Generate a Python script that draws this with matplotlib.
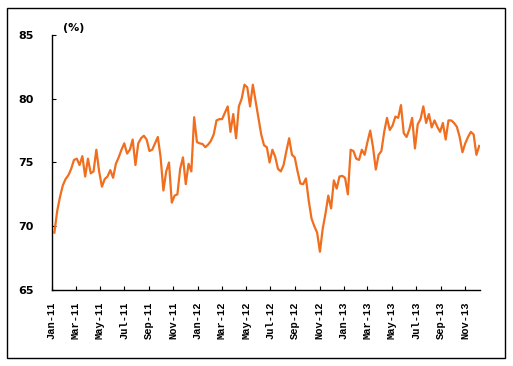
import matplotlib
matplotlib.use("Agg")
import matplotlib.pyplot as plt
import matplotlib.dates as mdates
import pandas as pd
from matplotlib.patches import Rectangle


# weekly readings, Jan 2011 - Dec 2013 (%)
start_date = "2011-01-07"
values = [
    69.5, 71.2, 72.3, 73.2, 73.7, 74.0, 74.5, 75.2, 75.3, 74.8,
    75.5, 73.9, 75.3, 74.15, 74.3, 76.0, 74.3, 73.1, 73.7, 73.9,
    74.4, 73.8, 74.9, 75.4, 76.0, 76.5, 75.7, 76.0, 76.8, 74.8,
    76.5, 76.9, 77.1, 76.8, 75.9, 76.0, 76.5, 77.0, 75.4, 72.8,
    74.3, 75.0, 71.85, 72.4, 72.5, 74.5, 75.4, 73.3, 74.9, 74.3,
    78.55, 76.6, 76.5, 76.45, 76.2, 76.4, 76.7, 77.2, 78.3, 78.4,
    78.4, 78.9, 79.4, 77.4, 78.8, 76.9, 79.4, 80.0, 81.1, 80.9,
    79.4, 81.1, 79.8, 78.5, 77.2, 76.35, 76.2, 75.0, 76.0, 75.45,
    74.5, 74.3, 74.8, 75.9, 76.9, 75.6, 75.4, 74.3, 73.35, 73.3,
    73.75, 72.0, 70.6, 70.0, 69.5, 68.0, 69.8, 71.0, 72.4, 71.4,
    73.6, 72.95, 73.9, 73.95, 73.8, 72.5, 76.0, 75.9, 75.3, 75.2,
    76.0, 75.6, 76.6, 77.5, 76.2, 74.45, 75.6, 75.9, 77.4, 78.5,
    77.55, 77.9, 78.6, 78.5, 79.5, 77.3, 77.0, 77.6, 78.5, 76.1,
    78.0, 78.4, 79.4, 78.1, 78.8, 77.75, 78.3, 77.8, 77.4, 78.1,
    76.8, 78.3, 78.3, 78.1, 77.8, 77.0, 75.8, 76.5, 77.0, 77.4,
    77.2, 75.6, 76.3,
]
y_ticks = [65, 70, 75, 80, 85]
unit_label = "(%)"

dates = pd.date_range(start_date, periods=len(values), freq="7D")

fig = plt.figure(figsize=(5.13, 3.66), dpi=100)
ax = fig.add_axes([0.1014, 0.2077, 0.8343, 0.6967])

ax.plot(dates, values, color="#F06E1E", linewidth=1.6)

ax.set_ylim(65, 85)
ax.set_yticks(y_ticks)
ax.set_xlim(pd.Timestamp("2011-01-01"), pd.Timestamp("2013-12-08"))
ax.xaxis.set_major_locator(mdates.MonthLocator(bymonth=[1, 3, 5, 7, 9, 11]))
ax.xaxis.set_major_formatter(mdates.DateFormatter("%b-%y"))

for side in ["top", "right"]:
    ax.spines[side].set_visible(False)
for side in ["left", "bottom"]:
    ax.spines[side].set_linewidth(1.0)

ax.tick_params(axis="both", direction="in", length=3, width=0.8)
ax.tick_params(axis="y", pad=13)
ax.tick_params(axis="x", pad=8)
for lbl in ax.get_yticklabels():
    lbl.set_fontsize(8)
    lbl.set_fontweight("bold")
for lbl in ax.get_xticklabels():
    lbl.set_rotation(90)
    lbl.set_fontsize(7.5)
    lbl.set_fontweight("bold")
    lbl.set_family("Liberation Mono")

fig.text(0.143, 0.923, unit_label, fontsize=8, fontweight="bold",
         ha="center", va="center")

fig.patches.append(Rectangle((0.0146, 0.0219), 0.9698, 0.9561,
                             transform=fig.transFigure, fill=False,
                             edgecolor="black", linewidth=1.0))

fig.savefig("out.png", dpi=100)
